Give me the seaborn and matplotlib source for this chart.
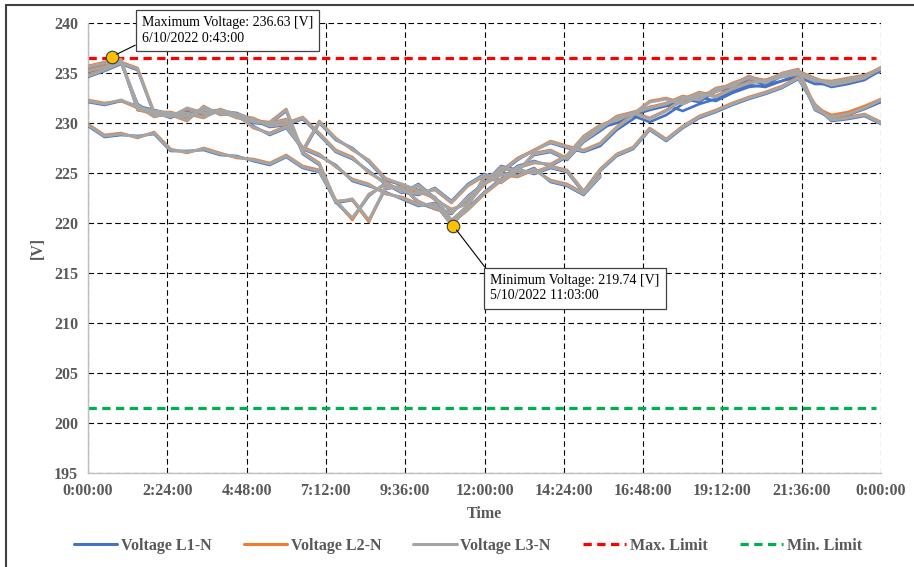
import numpy as np
import pandas as pd
import matplotlib.pyplot as plt
import seaborn as sns
from matplotlib.lines import Line2D

# sample grid: every 30 minutes over one day
sample_minutes = np.arange(0, 1441, 30)

# day traces per phase (L1 blue, L2 orange, L3 gray)
l1_day1 = [235.5, 235.9, 236.2, 231.3, 231.1, 230.5, 231.4, 231.1, 231.0, 230.7, 230.1, 229.8, 230.2, 227.1, 230.0, 228.3, 227.5, 226.1, 224.3, 223.8, 223.3, 222.5, 220.1, 221.7, 224.7, 225.0, 226.3, 227.3, 228.0, 227.5, 227.1, 227.7, 229.3, 230.4, 231.6, 231.8, 231.2, 231.9, 232.4, 233.2, 233.8, 233.6, 234.2, 234.9, 234.2, 233.6, 233.9, 234.3, 235.3]
l2_day1 = [235.7, 236.1, 236.4, 231.3, 230.9, 230.7, 231.4, 230.9, 231.2, 230.5, 230.3, 230.0, 230.4, 227.3, 230.2, 228.5, 227.3, 226.3, 224.5, 223.8, 223.1, 222.5, 220.3, 221.7, 224.5, 225.2, 226.5, 227.3, 228.2, 227.7, 227.3, 228.0, 229.6, 230.9, 232.2, 232.5, 232.0, 232.8, 233.2, 234.0, 234.6, 234.3, 234.9, 235.2, 234.5, 233.9, 234.2, 234.6, 235.6]
l3_day1 = [235.6, 236.0, 236.3, 231.4, 231.0, 230.6, 231.5, 231.0, 231.1, 230.6, 230.2, 229.9, 230.3, 227.2, 230.1, 228.4, 227.4, 226.2, 224.4, 223.9, 223.2, 222.6, 220.2, 221.8, 224.6, 225.1, 226.4, 227.2, 228.1, 227.6, 227.2, 227.9, 229.5, 230.8, 232.1, 232.4, 231.9, 232.7, 233.1, 233.9, 234.5, 234.2, 234.8, 235.1, 234.4, 233.8, 234.1, 234.5, 235.5]

l1_day2 = [234.6, 235.2, 235.9, 235.3, 230.9, 231.0, 230.4, 231.5, 231.0, 230.7, 230.0, 229.9, 231.2, 226.9, 225.8, 222.0, 222.3, 220.2, 223.4, 223.7, 222.0, 221.4, 220.9, 222.7, 224.0, 225.7, 225.3, 226.8, 227.1, 226.3, 228.1, 229.2, 230.4, 230.8, 231.3, 231.7, 232.4, 232.1, 233.2, 233.5, 234.4, 233.8, 234.7, 235.1, 231.3, 230.5, 230.8, 231.4, 232.1]
l2_day2 = [234.8, 235.4, 236.1, 235.5, 231.1, 230.8, 230.2, 231.7, 230.8, 230.9, 230.2, 230.1, 231.4, 227.1, 226.0, 222.2, 222.3, 220.1, 223.6, 223.5, 222.2, 221.4, 221.1, 222.5, 223.8, 225.5, 225.1, 227.0, 227.3, 226.5, 228.3, 229.5, 230.7, 231.1, 231.6, 232.0, 232.7, 232.4, 233.5, 233.8, 234.7, 234.1, 235.0, 235.4, 231.6, 230.8, 231.1, 231.7, 232.4]
l3_day2 = [234.7, 235.3, 236.0, 235.4, 231.0, 230.9, 230.3, 231.6, 230.9, 230.8, 230.1, 230.0, 231.3, 227.0, 225.9, 222.1, 222.4, 220.3, 223.5, 223.6, 222.1, 221.5, 221.0, 222.6, 223.9, 225.6, 225.2, 226.9, 227.2, 226.4, 228.2, 229.4, 230.6, 231.0, 231.5, 231.9, 232.6, 232.3, 233.4, 233.7, 234.6, 234.0, 234.9, 235.3, 231.4, 230.6, 230.9, 231.5, 232.3]

l1_day3 = [232.1, 231.8, 232.2, 231.7, 231.3, 230.9, 230.8, 231.2, 231.3, 230.7, 229.7, 228.8, 229.5, 227.4, 226.7, 225.8, 224.2, 223.7, 223.1, 222.4, 221.7, 222.0, 219.8, 221.5, 223.1, 224.4, 225.7, 226.2, 225.7, 226.6, 228.4, 229.5, 230.0, 230.7, 230.1, 230.8, 231.9, 232.6, 232.2, 233.0, 233.6, 233.8, 234.2, 234.6, 233.9, 233.9, 234.2, 234.5, 235.2]
l2_day3 = [232.3, 232.0, 232.2, 231.5, 231.1, 231.1, 230.6, 231.4, 231.1, 230.9, 229.5, 229.0, 229.7, 227.6, 226.9, 225.6, 224.4, 223.9, 222.9, 222.6, 221.9, 221.8, 220.0, 221.3, 222.9, 224.2, 225.5, 226.0, 225.9, 226.8, 228.7, 229.8, 230.4, 231.1, 230.5, 231.3, 232.4, 233.1, 232.7, 233.5, 234.1, 234.3, 234.7, 235.0, 234.3, 234.2, 234.5, 234.8, 235.5]
l3_day3 = [232.2, 231.9, 232.3, 231.6, 231.2, 231.0, 230.7, 231.3, 231.2, 230.8, 229.6, 228.9, 229.6, 227.5, 226.8, 225.7, 224.3, 223.8, 223.0, 222.5, 221.8, 221.9, 219.9, 221.4, 223.0, 224.3, 225.6, 226.1, 225.8, 226.7, 228.6, 229.7, 230.3, 231.0, 230.4, 231.2, 232.3, 233.0, 232.6, 233.4, 234.0, 234.2, 234.6, 234.9, 234.2, 234.1, 234.4, 234.7, 235.4]

l1_day4 = [229.7, 228.6, 228.8, 228.7, 228.9, 227.2, 227.2, 227.3, 226.8, 226.7, 226.2, 225.8, 226.6, 225.5, 225.1, 222.1, 220.4, 222.7, 224.0, 223.1, 222.8, 223.5, 222.2, 223.9, 224.9, 224.2, 225.4, 224.9, 225.5, 225.1, 223.0, 225.2, 226.7, 227.4, 229.3, 228.2, 229.5, 230.5, 231.1, 231.8, 232.4, 232.9, 233.5, 234.4, 231.7, 230.2, 230.4, 230.7, 229.9]
l2_day4 = [229.9, 228.8, 229.0, 228.5, 229.1, 227.4, 227.0, 227.5, 227.0, 226.5, 226.4, 226.0, 226.8, 225.7, 225.3, 222.3, 220.3, 222.9, 223.8, 223.3, 223.0, 223.3, 222.0, 223.7, 224.7, 224.0, 225.2, 225.1, 225.7, 225.3, 223.2, 225.4, 226.9, 227.6, 229.5, 228.4, 229.7, 230.7, 231.3, 232.0, 232.6, 233.1, 233.7, 234.6, 231.9, 230.4, 230.6, 230.9, 230.1]
l3_day4 = [229.8, 228.7, 228.9, 228.6, 229.0, 227.3, 227.1, 227.4, 226.9, 226.6, 226.3, 225.9, 226.7, 225.6, 225.2, 222.2, 220.5, 222.8, 223.9, 223.2, 222.9, 223.4, 222.1, 223.8, 224.8, 224.1, 225.3, 225.0, 225.6, 225.2, 223.1, 225.3, 226.8, 227.5, 229.4, 228.3, 229.6, 230.6, 231.2, 231.9, 232.5, 233.0, 233.6, 234.5, 231.8, 230.3, 230.5, 230.8, 230.0]

# last day is partial (ends 15:30)
l1_day5 = [235.1, 235.5, 236.0, 231.9, 230.8, 230.8, 231.1, 230.7, 231.2, 231.0, 230.3, 229.6, 229.8, 230.4, 228.8, 227.1, 226.4, 225.2, 223.9, 223.0, 223.9, 222.5, 221.2, 222.1, 224.1, 225.0, 224.8, 225.5, 224.1, 223.7, 222.8, 224.6]
l2_day5 = [235.3, 235.7, 236.2, 231.7, 230.6, 231.0, 230.9, 230.5, 231.4, 230.8, 230.5, 229.8, 230.0, 230.6, 229.0, 227.3, 226.6, 225.0, 224.1, 223.2, 223.7, 222.3, 221.4, 221.9, 223.9, 224.8, 224.6, 225.3, 224.3, 223.9, 223.0, 224.8]
l3_day5 = [235.2, 235.6, 236.1, 231.8, 230.7, 230.9, 231.0, 230.6, 231.3, 230.9, 230.4, 229.7, 229.9, 230.5, 228.9, 227.2, 226.5, 225.1, 224.0, 223.1, 223.8, 222.4, 221.3, 222.0, 224.0, 224.9, 224.7, 225.4, 224.2, 223.8, 222.9, 224.7]

max_limit = 236.5
min_limit = 201.5
max_point = (43, 236.63)    # minutes, volts
min_point = (663, 219.74)
max_text = "Maximum Voltage: 236.63 [V]\n6/10/2022 0:43:00"
min_text = "Minimum Voltage: 219.74 [V]\n5/10/2022 11:03:00"

tick_minutes = [0, 144, 288, 432, 576, 720, 864, 1008, 1152, 1296, 1440]
tick_labels = ["0:00:00", "2:24:00", "4:48:00", "7:12:00", "9:36:00", "12:00:00",
               "14:24:00", "16:48:00", "19:12:00", "21:36:00", "0:00:00"]
y_ticks = [195, 200, 205, 210, 215, 220, 225, 230, 235, 240]

phases = ["Voltage L1-N", "Voltage L2-N", "Voltage L3-N"]
colors = {"Voltage L1-N": "#4472C4", "Voltage L2-N": "#ED7D31", "Voltage L3-N": "#A5A5A5"}
widths = {"Voltage L1-N": 1.9, "Voltage L2-N": 1.9, "Voltage L3-N": 2.2}

traces = {
    "Voltage L1-N": [l1_day1, l1_day2, l1_day3, l1_day4, l1_day5],
    "Voltage L2-N": [l2_day1, l2_day2, l2_day3, l2_day4, l2_day5],
    "Voltage L3-N": [l3_day1, l3_day2, l3_day3, l3_day4, l3_day5],
}

rows = []
for phase in phases:
    for day, vals in enumerate(traces[phase]):
        for m, v in zip(sample_minutes[:len(vals)], vals):
            rows.append({"minute": m, "voltage": v, "phase": phase, "day": day})
df = pd.DataFrame(rows)

sns.set_style("white")
plt.rcParams['font.family'] = ['Liberation Serif', 'DejaVu Serif']
gray_txt = "#595959"

fig = plt.figure(figsize=(9.14, 5.67), dpi=100)
ax = fig.add_axes([88 / 914, 1 - 473 / 567, 793 / 914, 450 / 567])

# one call per phase so L3 (gray) ends up on top, like the original
for i, phase in enumerate(phases):
    sns.lineplot(data=df[df["phase"] == phase], x="minute", y="voltage",
                 units="day", estimator=None, color=colors[phase], lw=widths[phase],
                 legend=False, ax=ax, zorder=3 + i)

ax.axhline(max_limit, xmin=0, xmax=0.994, color="#FF0000", lw=2.3, dashes=(2.6, 1.7), zorder=2)
ax.axhline(min_limit, xmin=0, xmax=0.994, color="#00B050", lw=2.3, dashes=(2.6, 1.7), zorder=2)

ax.set_xlim(0, 1440)
ax.set_ylim(195, 240)
ax.set_xticks(tick_minutes)
ax.set_xticklabels(tick_labels)
ax.set_yticks(y_ticks)
ax.grid(True, color="black", lw=0.8, ls=(0, (5, 3)))
ax.set_axisbelow(True)
for s in ["top", "right"]:
    ax.spines[s].set_visible(False)
for s in ["left", "bottom"]:
    ax.spines[s].set_color("#BFBFBF")
    ax.spines[s].set_linewidth(1.0)
ax.tick_params(length=0, pad=7, labelsize=11.5, labelcolor=gray_txt)
for lab in ax.get_xticklabels() + ax.get_yticklabels():
    lab.set_fontweight("bold")
ax.set_xlabel("Time", fontsize=11.5, fontweight="bold", color=gray_txt, labelpad=5)
ax.set_ylabel("[V]", fontsize=11.5, fontweight="bold", color=gray_txt, labelpad=6)

# annotations
for pt, txt, tpos, rel in [(max_point, max_text, (98, 239.25), (0, 0.1)),
                           (min_point, min_text, (730, 213.5), (0, 1))]:
    ax.plot(*pt, "o", ms=9, mfc="#FFC000", mec="#3a3a3a", mew=0.8, zorder=8, clip_on=False)
    ax.annotate(txt, xy=pt, xytext=tpos, textcoords="data", fontsize=10, color="black",
                ha="left", va="center", linespacing=1.25, zorder=9,
                bbox=dict(boxstyle="square,pad=0.45", fc="white", ec="#404040", lw=0.9),
                arrowprops=dict(arrowstyle="-", color="black", lw=0.8, relpos=rel,
                                shrinkA=0, shrinkB=4))

handles = [Line2D([], [], color=colors[p], lw=2.2) for p in phases]
handles += [Line2D([], [], color="#FF0000", lw=2.3, dashes=(2.6, 1.7)),
            Line2D([], [], color="#00B050", lw=2.3, dashes=(2.6, 1.7))]
labels = phases + ["Max. Limit", "Min. Limit"]
leg = fig.legend(handles, labels, loc="center", bbox_to_anchor=(468 / 914, 1 - 546 / 567),
                 ncol=5, frameon=False, handlelength=2.7, handletextpad=0.25,
                 columnspacing=2.0, prop={"size": 11.5, "weight": "bold"})
for t in leg.get_texts():
    t.set_color(gray_txt)

# outer frame (top and left edges only visible)
fig.add_artist(Line2D([6 / 914, 1], [1 - 5 / 567, 1 - 5 / 567], color="#404040", lw=1.5))
fig.add_artist(Line2D([6 / 914, 6 / 914], [0, 1 - 5 / 567], color="#404040", lw=1.5))

fig.savefig("out.png", dpi=100)
